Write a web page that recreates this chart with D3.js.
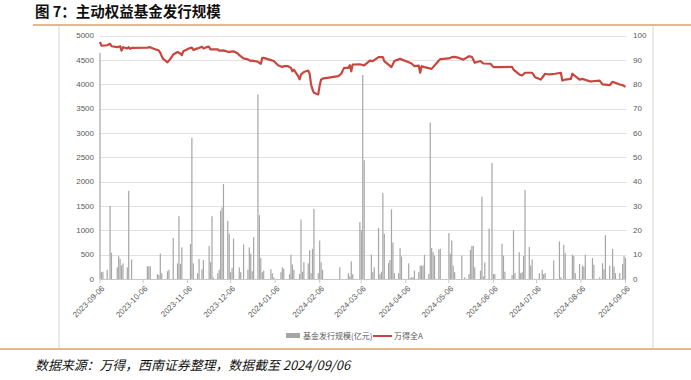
<!DOCTYPE html>
<html>
<head>
<meta charset="utf-8">
<script src="https://cdn.jsdelivr.net/npm/d3@7"></script>
<style>
  html, body { margin: 0; padding: 0; background: #fff; }
  svg { display: block; }
  .tick-label { font-family: "Liberation Sans", Arial, sans-serif; font-size: 8px; fill: #595959; }
  .legend-label { font-family: "Noto Sans CJK SC", sans-serif; font-size: 8px; fill: #595959; }
</style>
</head>
<body>
<svg id="chart" width="691" height="380"></svg>
<script>
// monthly tick labels on the x axis
const xTickLabels = ['2023-09-06', '2023-10-06', '2023-11-06', '2023-12-06', '2024-01-06', '2024-02-06',
  '2024-03-06', '2024-04-06', '2024-05-06', '2024-06-06', '2024-07-06', '2024-08-06', '2024-09-06'];
const leftTicks = [0, 500, 1000, 1500, 2000, 2500, 3000, 3500, 4000, 4500, 5000];
const rightTicks = [0, 10, 20, 30, 40, 50, 60, 70, 80, 90, 100];
const legendLabels = ['基金发行规模(亿元)', '万得全A'];

// 基金发行规模(亿元), daily
const barDates = [
  '2023-09-06', '2023-09-07', '2023-09-08', '2023-09-11', '2023-09-13', '2023-09-14', '2023-09-18', '2023-09-19',
  '2023-09-20', '2023-09-21', '2023-09-22', '2023-09-25', '2023-09-26', '2023-09-28',
  '2023-10-09', '2023-10-10', '2023-10-11', '2023-10-16', '2023-10-17', '2023-10-18', '2023-10-19', '2023-10-23',
  '2023-10-24', '2023-10-27', '2023-10-30', '2023-10-31',
  '2023-11-01', '2023-11-02', '2023-11-08', '2023-11-09', '2023-11-10', '2023-11-13', '2023-11-14', '2023-11-16',
  '2023-11-17', '2023-11-21', '2023-11-22', '2023-11-23', '2023-11-24', '2023-11-27', '2023-11-28', '2023-11-29',
  '2023-11-30',
  '2023-12-01', '2023-12-04', '2023-12-05', '2023-12-06', '2023-12-07', '2023-12-08', '2023-12-12', '2023-12-13',
  '2023-12-15', '2023-12-18', '2023-12-19', '2023-12-20', '2023-12-21', '2023-12-22', '2023-12-25', '2023-12-26',
  '2023-12-27', '2023-12-28', '2023-12-29',
  '2024-01-03', '2024-01-04', '2024-01-05', '2024-01-10', '2024-01-11', '2024-01-12', '2024-01-16', '2024-01-17',
  '2024-01-18', '2024-01-19', '2024-01-23', '2024-01-24', '2024-01-25', '2024-01-26', '2024-01-29', '2024-01-30',
  '2024-01-31',
  '2024-02-01', '2024-02-02', '2024-02-05', '2024-02-06', '2024-02-07', '2024-02-08', '2024-02-20', '2024-02-26',
  '2024-02-27', '2024-02-28', '2024-02-29',
  '2024-03-05', '2024-03-06', '2024-03-07', '2024-03-08', '2024-03-13', '2024-03-14', '2024-03-15', '2024-03-18',
  '2024-03-19', '2024-03-20', '2024-03-21', '2024-03-22', '2024-03-25', '2024-03-26', '2024-03-27', '2024-03-28',
  '2024-03-29',
  '2024-04-01', '2024-04-02', '2024-04-03', '2024-04-08', '2024-04-09', '2024-04-10', '2024-04-11', '2024-04-12',
  '2024-04-15', '2024-04-16', '2024-04-17', '2024-04-18', '2024-04-19', '2024-04-22', '2024-04-23', '2024-04-24',
  '2024-04-25', '2024-04-26', '2024-04-29', '2024-04-30',
  '2024-05-06', '2024-05-07', '2024-05-08', '2024-05-09', '2024-05-10', '2024-05-15', '2024-05-17', '2024-05-20',
  '2024-05-21', '2024-05-22', '2024-05-23', '2024-05-24', '2024-05-28', '2024-05-29', '2024-05-30', '2024-05-31',
  '2024-06-03', '2024-06-05', '2024-06-06', '2024-06-07', '2024-06-12', '2024-06-13', '2024-06-14', '2024-06-19',
  '2024-06-20', '2024-06-21', '2024-06-24', '2024-06-25', '2024-06-26', '2024-06-27', '2024-06-28',
  '2024-07-01', '2024-07-02', '2024-07-03', '2024-07-08', '2024-07-10', '2024-07-11', '2024-07-12', '2024-07-18',
  '2024-07-22', '2024-07-23', '2024-07-25', '2024-07-26', '2024-07-31',
  '2024-08-01', '2024-08-02', '2024-08-05', '2024-08-07', '2024-08-08', '2024-08-09', '2024-08-14', '2024-08-15',
  '2024-08-19', '2024-08-21', '2024-08-22', '2024-08-23', '2024-08-26', '2024-08-28', '2024-08-29', '2024-08-30',
  '2024-09-02', '2024-09-04', '2024-09-05', '2024-09-06'
];
const barValues = [
  4640, 140, 150, 190, 1500, 540, 240, 470,
  410, 280, 320, 240, 1810, 400,
  260, 260, 260, 100, 80, 520, 120, 160,
  190, 840, 320, 1290,
  310, 650, 720, 2900, 320, 120, 410, 200,
  390, 680, 345, 1290, 30, 120, 190, 1400,
  1470,
  1950, 1190, 930, 140, 230, 830, 240, 140,
  710, 190, 650, 520, 160, 860, 3790, 1310,
  430, 140, 170,
  200, 120, 35, 140, 240, 210, 100, 500,
  300, 190, 100, 1220, 150, 345, 320, 590,
  120,
  620, 1440, 120, 790, 345, 190, 240, 120,
  55, 365, 100,
  1170, 1010, 4190, 2440, 500, 140, 240, 1050,
  100, 150, 1770, 930, 330, 390, 1430, 750,
  120,
  120, 635, 460, 320, 20, 35, 35, 170,
  140, 275, 275, 275, 500, 100, 3210, 635,
  550, 480, 610, 620,
  945, 520, 790, 275, 140, 480, 35, 100,
  600, 680, 680, 240, 170, 1690, 50, 340,
  1035, 2380, 100, 100, 725, 480, 150, 80,
  1000, 120, 550, 120, 140, 470, 1830,
  655, 275, 400, 120, 190, 100, 120, 380,
  770, 35, 700, 530, 500,
  470, 120, 310, 275, 255, 500, 430, 290,
  35, 325, 200, 900, 275, 620, 255, 120,
  120, 310, 470, 435
];

// 万得全A (right axis)
const lineDates = [
  '2023-09-06', '2023-09-07', '2023-09-11', '2023-09-13', '2023-09-14', '2023-09-18', '2023-09-20', '2023-09-21',
  '2023-09-22', '2023-09-25', '2023-09-26', '2023-09-27', '2023-09-28', '2023-10-09', '2023-10-11', '2023-10-13',
  '2023-10-17', '2023-10-18', '2023-10-19', '2023-10-20', '2023-10-23', '2023-10-25', '2023-10-27', '2023-10-30',
  '2023-11-01', '2023-11-02', '2023-11-03', '2023-11-07', '2023-11-09', '2023-11-10', '2023-11-13', '2023-11-16',
  '2023-11-17', '2023-11-20', '2023-11-21', '2023-11-22', '2023-11-27', '2023-11-28', '2023-12-01', '2023-12-04',
  '2023-12-05', '2023-12-08', '2023-12-11', '2023-12-12', '2023-12-15', '2023-12-18', '2023-12-20', '2023-12-21',
  '2023-12-25', '2023-12-27', '2023-12-28', '2023-12-29', '2024-01-02', '2024-01-05', '2024-01-08', '2024-01-11',
  '2024-01-12', '2024-01-15', '2024-01-17', '2024-01-18', '2024-01-19', '2024-01-22', '2024-01-23', '2024-01-24',
  '2024-01-26', '2024-01-29', '2024-01-30', '2024-01-31', '2024-02-01', '2024-02-02', '2024-02-05', '2024-02-06',
  '2024-02-07', '2024-02-08', '2024-02-19', '2024-02-21', '2024-02-23', '2024-02-26', '2024-02-27', '2024-02-28',
  '2024-02-29', '2024-03-01', '2024-03-05', '2024-03-08', '2024-03-12', '2024-03-14', '2024-03-18', '2024-03-21',
  '2024-03-22', '2024-03-27', '2024-03-29', '2024-04-02', '2024-04-08', '2024-04-10', '2024-04-12', '2024-04-15',
  '2024-04-16', '2024-04-17', '2024-04-19', '2024-04-24', '2024-04-29', '2024-04-30', '2024-05-06', '2024-05-08',
  '2024-05-10', '2024-05-13', '2024-05-16', '2024-05-20', '2024-05-22', '2024-05-23', '2024-05-24', '2024-05-28',
  '2024-05-30', '2024-06-04', '2024-06-06', '2024-06-11', '2024-06-19', '2024-06-20', '2024-06-24', '2024-06-26',
  '2024-06-28', '2024-07-03', '2024-07-05', '2024-07-09', '2024-07-12', '2024-07-15', '2024-07-19', '2024-07-23',
  '2024-07-24', '2024-07-26', '2024-07-30', '2024-07-31', '2024-08-05', '2024-08-07', '2024-08-12', '2024-08-14',
  '2024-08-19', '2024-08-21', '2024-08-26', '2024-08-28', '2024-09-02', '2024-09-04', '2024-09-06'
];
const lineValues = [
  97.4, 95.8, 96.0, 96.6, 95.6, 95.2, 95.6, 93.8,
  95.2, 94.7, 95.2, 94.5, 94.9, 95.0, 95.2, 94.7,
  93.8, 92.9, 91.5, 90.4, 89.0, 90.4, 92.2, 93.2,
  92.6, 91.9, 93.5, 94.7, 95.0, 94.1, 94.7, 95.4,
  94.7, 95.4, 95.3, 94.3, 94.3, 93.8, 93.9, 93.3,
  93.3, 93.5, 92.6, 91.9, 90.6, 90.2, 89.5, 89.7,
  89.2, 88.4, 90.8, 90.8, 90.1, 89.5, 87.8, 87.1,
  87.4, 87.4, 86.7, 85.3, 86.0, 83.3, 82.0, 84.0,
  85.0, 85.6, 84.3, 79.9, 77.8, 76.5, 75.8, 79.5,
  81.9, 82.3, 83.3, 84.3, 86.7, 86.7, 87.8, 85.3,
  88.1, 88.1, 88.2, 87.7, 89.7, 89.5, 91.1, 91.1,
  89.5, 87.0, 89.5, 90.4, 89.0, 88.5, 87.4, 87.6,
  84.7, 87.4, 87.0, 86.3, 89.7, 90.3, 90.6, 91.1,
  91.2, 90.8, 90.1, 91.5, 91.2, 90.1, 88.8, 89.5,
  88.5, 88.4, 87.0, 87.0, 87.1, 86.0, 84.0, 83.6,
  84.7, 84.7, 82.9, 81.9, 84.3, 84.0, 84.3, 84.7,
  81.5, 81.9, 82.2, 84.3, 81.9, 82.2, 81.2, 81.2,
  81.5, 79.9, 79.6, 81.0, 79.9, 79.6, 78.9
];

const parse = d3.timeParse('%Y-%m-%d');
const bars = barDates.map((d, i) => ({ date: parse(d), value: barValues[i] }));
const index = lineDates.map((d, i) => ({ date: parse(d), value: lineValues[i] }));
const xTicks = xTickLabels.map(parse);

const svg = d3.select('#chart');
const plot = { left: 100, right: 625.5, top: 35.5, bottom: 279 };

const x = d3.scaleTime()
  .domain(d3.extent(xTicks))
  .range([plot.left, plot.right]);
const yLeft = d3.scaleLinear()
  .domain([0, 5000])
  .range([plot.bottom, plot.top]);
const yRight = d3.scaleLinear()
  .domain([0, 100])
  .range([plot.bottom, plot.top]);

svg.append('rect').attr('width', 691).attr('height', 380).attr('fill', '#fff');

// title + frame
svg.append('text')
  .attr('x', 35).attr('y', 17)
  .style('font-family', '"Noto Sans CJK SC", sans-serif')
  .style('font-size', '14.5px')
  .style('font-weight', 'bold')
  .attr('fill', '#111')
  .text('图 7：主动权益基金发行规模');
svg.append('line')
  .attr('x1', 33).attr('x2', 691).attr('y1', 25).attr('y2', 25)
  .attr('stroke', '#d8a35c').attr('stroke-width', 1.5);
svg.append('line')
  .attr('x1', 0).attr('x2', 691).attr('y1', 349).attr('y2', 349)
  .attr('stroke', '#d8a35c').attr('stroke-width', 1.5);
[59, 653].forEach(fx => {
  svg.append('line')
    .attr('x1', fx).attr('x2', fx).attr('y1', 26).attr('y2', 348)
    .attr('stroke', '#e3e3e3').attr('stroke-width', 1.5);
});

// gridlines
svg.append('g')
  .selectAll('line')
  .data(leftTicks.filter(d => d > 0))
  .join('line')
    .attr('x1', plot.left).attr('x2', plot.right + 1)
    .attr('y1', d => Math.round(yLeft(d)) + 0.5)
    .attr('y2', d => Math.round(yLeft(d)) + 0.5)
    .attr('stroke', '#e0e0e0');

// left axis labels
svg.append('g')
  .selectAll('text')
  .data(leftTicks)
  .join('text')
    .attr('class', 'tick-label')
    .attr('x', 94)
    .attr('y', d => yLeft(d))
    .attr('dy', '0.35em')
    .attr('text-anchor', 'end')
    .text(d => d);

// right axis labels
svg.append('g')
  .selectAll('text')
  .data(rightTicks)
  .join('text')
    .attr('class', 'tick-label')
    .attr('x', 633)
    .attr('y', d => yRight(d))
    .attr('dy', '0.35em')
    .text(d => d);

// bars
svg.append('g')
  .selectAll('rect')
  .data(bars)
  .join('rect')
    .attr('x', d => x(d.date) - 0.6)
    .attr('width', 1.2)
    .attr('y', d => yLeft(d.value))
    .attr('height', d => yLeft(0) - yLeft(d.value))
    .attr('fill', '#a6a6a6');

// x axis
const xAxis = svg.append('g');
xAxis.append('line')
  .attr('x1', plot.left).attr('x2', plot.right + 1)
  .attr('y1', plot.bottom + 0.5).attr('y2', plot.bottom + 0.5)
  .attr('stroke', '#c8c8c8');
xAxis.selectAll('line.tick')
  .data(xTicks)
  .join('line')
    .attr('class', 'tick')
    .attr('x1', d => x(d)).attr('x2', d => x(d))
    .attr('y1', plot.bottom).attr('y2', plot.bottom + 4)
    .attr('stroke', '#c8c8c8');
xAxis.selectAll('text')
  .data(xTicks)
  .join('text')
    .attr('class', 'tick-label')
    .attr('text-anchor', 'end')
    .attr('transform', d => `translate(${[x(d) + 5, plot.bottom + 10]}) rotate(-45)`)
    .text((d, i) => xTickLabels[i]);

// index line
const line = d3.line()
  .x(d => x(d.date))
  .y(d => yRight(d.value));
svg.append('path')
  .datum(index)
  .attr('d', line)
  .attr('fill', 'none')
  .attr('stroke', '#c9463f')
  .attr('stroke-width', 2.2)
  .attr('stroke-linejoin', 'round');

// legend
const legend = svg.append('g').attr('transform', 'translate(0, 336)');
legend.append('rect')
  .attr('x', 286).attr('y', -3).attr('width', 14).attr('height', 5)
  .attr('fill', '#a6a6a6');
legend.append('text')
  .attr('class', 'legend-label')
  .attr('x', 303).attr('dy', '0.35em')
  .text(legendLabels[0]);
legend.append('line')
  .attr('x1', 373).attr('x2', 392).attr('y1', 0).attr('y2', 0)
  .attr('stroke', '#c9463f').attr('stroke-width', 2);
legend.append('text')
  .attr('class', 'legend-label')
  .attr('x', 394).attr('dy', '0.35em')
  .text(legendLabels[1]);

// source note
svg.append('text')
  .attr('x', 35).attr('y', 370)
  .style('font-family', '"Noto Sans CJK SC", sans-serif')
  .style('font-size', '12.9px')
  .style('font-style', 'italic')
  .attr('fill', '#111')
  .text('数据来源：万得，西南证券整理，数据截至 2024/09/06');
</script>
</body>
</html>
